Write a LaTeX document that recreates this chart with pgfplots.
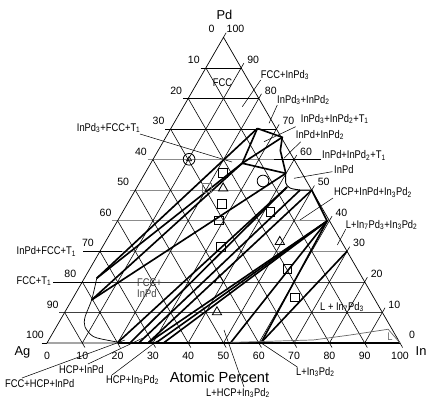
\documentclass[border=0pt]{standalone}
\usepackage{pgfplots}
\pgfplotsset{compat=1.18}
\usepackage{fontspec}
\setmainfont{Liberation Sans}
\newfontfamily\narrowfont[FakeStretch=0.84]{Liberation Sans}
\pgfplotsset{
  /pgfplots/table/tern/.style={x expr={47+3.53*(\thisrowno{0}+0.5*\thisrowno{1})}, y expr={343-3.057*\thisrowno{1}}, row sep=\\},
  grd/.style={black, line width=0.5pt},
  grh/.style={black!45, line width=0.6pt},
  thk/.style={black, line width=1.4pt},
  mid/.style={black, line width=0.8pt},
}
\tikzset{
  lab/.style={font=\narrowfont\fontsize{9.5}{10}\selectfont, inner sep=0pt, anchor=west},
  tk/.style={font=\fontsize{9}{10}\selectfont, inner sep=0pt},
  ldr/.style={black, line width=0.45pt},
}
\begin{document}
\begin{tikzpicture}
\begin{axis}[width=12.81cm,height=12.03cm,scale only axis,hide axis,clip=false,
  xmin=0,xmax=427,ymin=0,ymax=401,y dir=reverse]
\coordinate (bl) at (axis cs:0,401);
\coordinate (tr) at (axis cs:427,0);
% horizontal grid (constant Pd)
\addplot[black!75,line width=0.55pt] table[tern]{i p\\ -1.5 10\\ 90 10\\};
\addplot[black!75,line width=0.55pt] table[tern]{i p\\ -1.5 20\\ 80 20\\};
\addplot[grh] table[tern]{i p\\ -1.5 30\\ 70 30\\};
\addplot[grh] table[tern]{i p\\ -1.5 40\\ 60 40\\};
\addplot[grh] table[tern]{i p\\ -1.5 50\\ 50 50\\};
\addplot[grh] table[tern]{i p\\ -1.5 60\\ 40 60\\};
\addplot[grd] table[tern]{i p\\ -1.5 70\\ 30 70\\};
\addplot[grd] table[tern]{i p\\ -1.5 80\\ 20 80\\};
\addplot[grd] table[tern]{i p\\ -1.5 90\\ 10 90\\};
% constant In
\addplot[grd] table[tern]{i p\\ 10 0\\ 10 91.5\\};
\addplot[grd] table[tern]{i p\\ 20 0\\ 20 81.5\\};
\addplot[grd] table[tern]{i p\\ 30 0\\ 30 71.5\\};
\addplot[grd] table[tern]{i p\\ 40 0\\ 40 61.5\\};
\addplot[grd] table[tern]{i p\\ 50 0\\ 50 51.5\\};
\addplot[grd] table[tern]{i p\\ 60 0\\ 60 41.5\\};
\addplot[grd] table[tern]{i p\\ 70 0\\ 70 31.5\\};
\addplot[grd] table[tern]{i p\\ 80 0\\ 80 21.5\\};
\addplot[grd] table[tern]{i p\\ 90 0\\ 90 11.5\\};
% constant Ag
\addplot[grd] table[tern]{i p\\ 11.5 -1.5\\ 0 10\\};
\addplot[grd] table[tern]{i p\\ 21.5 -1.5\\ 0 20\\};
\addplot[grd] table[tern]{i p\\ 31.5 -1.5\\ 0 30\\};
\addplot[grd] table[tern]{i p\\ 41.5 -1.5\\ 0 40\\};
\addplot[grd] table[tern]{i p\\ 51.5 -1.5\\ 0 50\\};
\addplot[grd] table[tern]{i p\\ 61.5 -1.5\\ 0 60\\};
\addplot[grd] table[tern]{i p\\ 71.5 -1.5\\ 0 70\\};
\addplot[grd] table[tern]{i p\\ 81.5 -1.5\\ 0 80\\};
\addplot[grd] table[tern]{i p\\ 91.5 -1.5\\ 0 90\\};
% triangle edges
\addplot[black,line width=0.6pt] table[tern]{i p\\ 0 0\\ 100 0\\ 0 100\\ 0 0\\};
\addplot[black,line width=0.5pt] table[tern]{i p\\ 101.5 -1.5\\ 100 0\\};
\addplot[black,line width=0.5pt] table[tern]{i p\\ -1.5 0\\ 0 0\\};
\addplot[black,line width=0.5pt] table[tern]{i p\\ 0 100\\ 0 101.5\\};
% phase boundaries
\addplot[thk] table[tern]{i p\\ 20 0\\ 100 0\\};
\addplot[thk] table[tern]{i p\\ 50 50\\ 59.4 39.9\\};
\addplot[thk] table[tern]{i p\\ 24.5 70.2\\ 33.0 67.3\\ 34.6 63\\ 39.9 55.5\\};
\addplot[thk] table[tern]{i p\\ 24.5 70.2\\ 25.9 58.8\\};
\addplot[thk] table[tern]{i p\\ 25.9 58.8\\ 33.0 67.3\\};
\addplot[thk] table[tern]{i p\\ 25.9 58.8\\ 39.9 55.5\\};
\addplot[thk] table[tern]{i p\\ 3.5 21.2\\ 24.5 70.2\\};
\addplot[thk] table[tern]{i p\\ 3.5 21.2\\ 25.9 58.8\\};
\addplot[thk] table[tern]{i p\\ 5.6 14.1\\ 25.9 58.8\\};
\addplot[thk] table[tern]{i p\\ 5.6 14.1\\ 39.9 55.5\\};
\addplot[thk] table[tern]{i p\\ 20 0.3\\ 42.5 51.0\\};
\addplot[thk] table[tern]{i p\\ 23.5 0\\ 42.5 51.0\\};
\addplot[thk] table[tern]{i p\\ 26 0\\ 46.7 50.05\\};
\addplot[thk] table[tern]{i p\\ 28.6 0\\ 50 50\\};
\addplot[thk] table[tern]{i p\\ 28.6 0\\ 59.4 39.9\\};
\addplot[thk] table[tern]{i p\\ 30.8 0\\ 59.4 39.9\\};
\addplot[thk] table[tern]{i p\\ 33 0\\ 59.4 39.9\\};
\addplot[thk] table[tern]{i p\\ 52 0.2\\ 59.4 39.9\\};
\addplot[thk] table[tern]{i p\\ 60.6 0.2\\ 59.4 39.9\\};
\addplot[thk] table[tern]{i p\\ 60.6 0.2\\ 70 30\\};
% InPd boundary
\addplot[mid,smooth] table[tern]{i p\\ 39.9 55.5\\ 41.5 52.3\\ 43.5 50.7\\ 46.7 50.05\\ 50 50\\};
% FCC boundary
\addplot[black,line width=0.6pt,smooth] table[tern]{i p\\ 3.5 21.2\\ 5.6 14.1\\ 6.5 8.6\\ 8.1 5.3\\ 12.1 2.1\\ 17.5 0.75\\ 20 0.3\\};
% L boundary
\addplot[black!60,line width=0.6pt] table[tern]{i p\\ 52 0.2\\ 75 1.0\\ 84.5 2.6\\ 94.4 4.5\\ 100 0\\};
% experimental points
\addplot[only marks, mark=square, mark size=3.8pt, black, line width=0.7pt] table[tern]{i p\\
22.2 55.5\\ 26.8 45.5\\ 28.7 40.1\\ 33.4 31.5\\ 41.8 43.0\\ 62.8 14.9\\ 56.0 24.2\\};
\addplot[only marks, mark=square, mark size=3.8pt, black!55, line width=0.7pt] table[tern]{i p\\ 19.9 50.6\\};
\addplot[only marks, mark=triangle, mark size=4.6pt, black, line width=0.7pt] table[tern]{i p\\
24.6 50.6\\ 49.4 33.1\\ 38.5 20.6\\ 43.1 10.1\\};
\addplot[only marks, mark=o, mark size=5pt, black, line width=0.7pt] table[tern]{i p\\ 34.7 53.0\\ 10.2 60.1\\};
\addplot[only marks, mark=triangle, mark size=2.5pt, black, line width=0.5pt] table[tern]{i p\\ 10.2 60.1\\};
% tick labels
\pgfplotsinvokeforeach{0,10,...,100}{
  \node[tk] at (axis cs:{47+1.765*(100-#1)-12},{343-3.057*(100-#1)-8}) {#1};
  \node[tk] at (axis cs:{47+3.53*(100-0.5*#1)+12},{343-3.057*#1-8}) {#1};
  \node[tk] at (axis cs:{47+3.53*#1},356) {#1};
}
% corner labels
\node[font=\fontsize{11}{12}\selectfont,inner sep=0pt] at (axis cs:224.5,15) {Pd};
\node[font=\fontsize{11}{12}\selectfont,inner sep=0pt] at (axis cs:22.5,352) {Ag};
\node[font=\fontsize{11}{12}\selectfont,inner sep=0pt,anchor=west] at (axis cs:415.5,351) {In};
\node[font=\fontsize{12.5}{14}\selectfont,inner sep=0pt] at (axis cs:219.5,377) {Atomic Percent};
% phase labels
\node[lab,anchor=center] at (axis cs:222.5,83) {FCC};
\node[lab] at (axis cs:260.7,75) {FCC+InPd\textsubscript{3}};
\node[lab] at (axis cs:277,100) {InPd\textsubscript{3}+InPd\textsubscript{2}};
\node[lab] at (axis cs:300.7,119) {InPd\textsubscript{3}+InPd\textsubscript{2}+T\textsubscript{1}};
\node[lab] at (axis cs:295.7,135) {InPd+InPd\textsubscript{2}};
\node[lab] at (axis cs:322,155.7) {InPd+InPd\textsubscript{2}+T\textsubscript{1}};
\node[lab] at (axis cs:334,170) {InPd};
\node[lab] at (axis cs:334,192.7) {HCP+InPd+In\textsubscript{3}Pd\textsubscript{2}};
\node[lab] at (axis cs:345.7,225) {L+In\textsubscript{7}Pd\textsubscript{3}+In\textsubscript{3}Pd\textsubscript{2}};
\node[lab] at (axis cs:320,307) {L + In\textsubscript{7}Pd\textsubscript{3}};
\node[lab,anchor=center,text=black!55] at (axis cs:390,337) {L};
\node[lab] at (axis cs:296,372) {L+In\textsubscript{3}Pd\textsubscript{2}};
\node[lab] at (axis cs:206,393) {L+HCP+In\textsubscript{3}Pd\textsubscript{2}};
\node[lab] at (axis cs:106,380) {HCP+In\textsubscript{3}Pd\textsubscript{2}};
\node[lab] at (axis cs:59,370) {HCP+InPd};
\node[lab] at (axis cs:5,384) {FCC+HCP+InPd};
\node[lab] at (axis cs:16.5,281) {FCC+T\textsubscript{1}};
\node[lab] at (axis cs:16.5,251.7) {InPd+FCC+T\textsubscript{1}};
\node[lab] at (axis cs:76.7,128) {InPd\textsubscript{3}+FCC+T\textsubscript{1}};
\node[lab,text=black!75] at (axis cs:137,283) {FCC+};
\node[lab,text=black!75] at (axis cs:137,294) {InPd};
% leaders
\draw[ldr] (axis cs:260.7,80) -- (axis cs:242.3,106.7);
\draw[ldr] (axis cs:277.3,105) -- (axis cs:269,123.3);
\draw[ldr] (axis cs:295.7,126.7) -- (axis cs:264,141.7);
\draw[ldr] (axis cs:300.7,141.7) -- (axis cs:284,158.3);
\draw[ldr] (axis cs:321,159.5) -- (axis cs:274,159.5);
\draw[ldr] (axis cs:332.3,171.7) -- (axis cs:294,178.3);
\draw[ldr] (axis cs:333,198) -- (axis cs:300,220);
\draw[ldr] (axis cs:345.7,229.3) -- (axis cs:337.3,245);
\draw[ldr] (axis cs:297.3,367) -- (axis cs:260.7,342.7);
\draw[ldr] (axis cs:244,387) -- (axis cs:224,330);
\draw[ldr] (axis cs:112,375) -- (axis cs:157,341);
\draw[ldr] (axis cs:88,364) -- (axis cs:143,338);
\draw[ldr] (axis cs:22,378) -- (axis cs:125,340);
\draw[ldr] (axis cs:53,282.5) -- (axis cs:101,282.5);
\draw[ldr] (axis cs:83,251) -- (axis cs:122,251);
\draw[ldr] (axis cs:140,134) -- (axis cs:232,162);
\end{axis}
\pgfresetboundingbox
\path[use as bounding box] (bl) rectangle (tr);
\end{tikzpicture}
\end{document}
